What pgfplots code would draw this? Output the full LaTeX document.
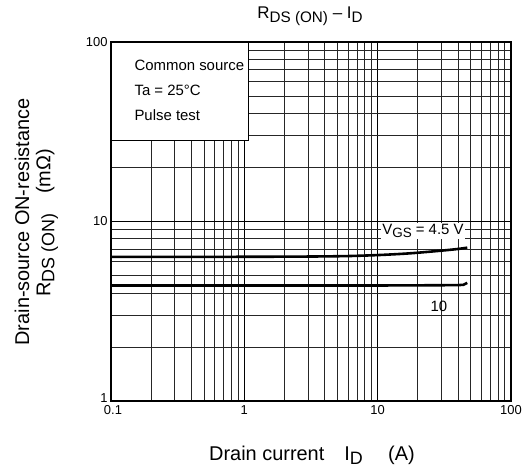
\documentclass[border=0pt]{standalone}
\usepackage{fontspec}
\setmainfont{Liberation Sans}
\usepackage{pgfplots}
\pgfplotsset{compat=1.18}

\newcommand\sub[1]{\raisebox{-0.4ex}{\scalebox{0.9}{#1}}}
\newcommand\fs[1]{\fontsize{#1}{#1}\selectfont}

\begin{document}
\begin{tikzpicture}
\begin{axis}[
  xmode=log, ymode=log, scale only axis,
  width=400bp, height=359bp,
  xmin=0.1, xmax=100, ymin=1, ymax=100,
  xtick={0.1,1,10,100}, xticklabels={\hspace*{4bp}0.1,1,10,100},
  ytick={1,10,100}, yticklabels={\raisebox{5bp}{1},10,100},
  minor xtick={0.2,0.3,0.4,0.5,0.6,0.7,0.8,0.9,2,3,4,5,6,7,8,9,20,30,40,50,60,70,80,90},
  minor ytick={2,3,4,5,6,7,8,9,20,30,40,50,60,70,80,90},
  grid=both,
  major grid style={black, line width=1.5pt},
  minor grid style={black!85, line width=0.8pt},
  tick style={draw=none},
  axis line style={line width=2pt},
  ticklabel style={font=\fs{13}},
  xticklabel style={yshift=-1bp},
  clip=false,
]
% V_GS = 4.5 V
\addplot[black, line width=2.6pt, smooth] coordinates {
  (0.1,6.35) (1,6.36) (3,6.38) (6,6.42) (10,6.5) (15,6.6) (20,6.7) (30,6.88) (40,7.03) (47,7.15)};
% V_GS = 10 V
\addplot[black, line width=2.6pt] coordinates {
  (0.1,4.4) (10,4.4) (40,4.42) (44,4.44) (47,4.55)};

\draw[fill=white, line width=0.8pt] (rel axis cs:0,1) rectangle (rel axis cs:0.3425,0.727);
\draw[line width=2pt] (rel axis cs:0,0) rectangle (rel axis cs:1,1);
\node[anchor=west, font=\fs{15}] at (rel axis cs:0.05,0.935) {Common source};
\node[anchor=west, font=\fs{15}] at (rel axis cs:0.05,0.865) {Ta = 25°C};
\node[anchor=west, font=\fs{15}] at (rel axis cs:0.05,0.795) {Pulse test};
\node[fill=white, inner sep=1.5pt, font=\fs{15}] at (rel axis cs:0.78,0.4735) {V\sub{GS} = 4.5 V};
\node[font=\fs{15}] at (rel axis cs:0.82,0.265) {10};

\coordinate (O) at (rel axis cs:0,0);
\end{axis}
\node[font=\fs{17}] at ([shift={(199bp,385bp)}]O) {R\sub{DS (ON)} – I\sub{D}};
\node[font=\fs{20}] at ([shift={(201bp,-54bp)}]O) {Drain current\quad I\sub{D}\quad\ (A)};
\node[font=\fs{20}, rotate=90] at ([shift={(-89bp,179bp)}]O) {Drain-source ON-resistance};
\node[font=\fs{20}, rotate=90] at ([shift={(-64bp,178bp)}]O) {R\sub{DS (ON)}\quad (mΩ)};
\pgfresetboundingbox
\path ([shift={(-111bp,-68bp)}]O) rectangle ++(527bp,469bp);
\end{tikzpicture}
\end{document}
